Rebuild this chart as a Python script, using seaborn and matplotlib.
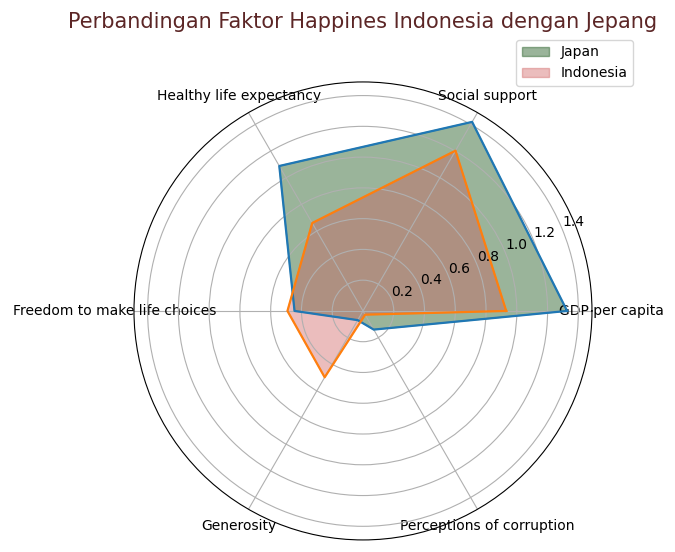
import numpy as np
import pandas as pd
import matplotlib
matplotlib.use("Agg")
import matplotlib.pyplot as plt
import seaborn as sns

# Happiness factors (World Happiness Report)
categories = ['GDP per capita', 'Social support', 'Healthy life expectancy',
              'Freedom to make life choices', 'Generosity', 'Perceptions of corruption']
japan = [1.327, 1.419, 1.088, 0.445, 0.069, 0.140]
indonesia = [0.931, 1.203, 0.660, 0.491, 0.498, 0.028]

n = len(categories)
angles = np.linspace(0, 2 * np.pi, n, endpoint=False).tolist()
angles_closed = angles + angles[:1]

df = pd.DataFrame({
    'angle': angles_closed * 2,
    'value': japan + japan[:1] + indonesia + indonesia[:1],
    'country': ['Japan'] * (n + 1) + ['Indonesia'] * (n + 1),
})

fig = plt.figure(figsize=(6.75, 5.52), dpi=100)
ax = fig.add_axes([0.1985, 0.0217, 0.6785, 0.830], polar=True)

# filled areas
ax.fill(angles_closed, japan + japan[:1], color='#1f5a1f', alpha=0.45, label='Japan')
ax.fill(angles_closed, indonesia + indonesia[:1], color='indianred', alpha=0.4, label='Indonesia')

# outlines
sns.lineplot(data=df, x='angle', y='value', hue='country', sort=False, estimator=None,
             palette=['tab:blue', 'tab:orange'], linewidth=1.6, ax=ax, legend=False)

ax.set_thetagrids(np.degrees(angles), categories)
ax.set_xlabel('')
ax.set_ylabel('')
ax.set_title('Perbandingan Faktor Happines Indonesia dengan Jepang', fontsize=15,
             color='#5c2626', y=1.1)
ax.legend(loc='upper right', bbox_to_anchor=(1.105, 1.107))

plt.savefig('out.png', dpi=100)
